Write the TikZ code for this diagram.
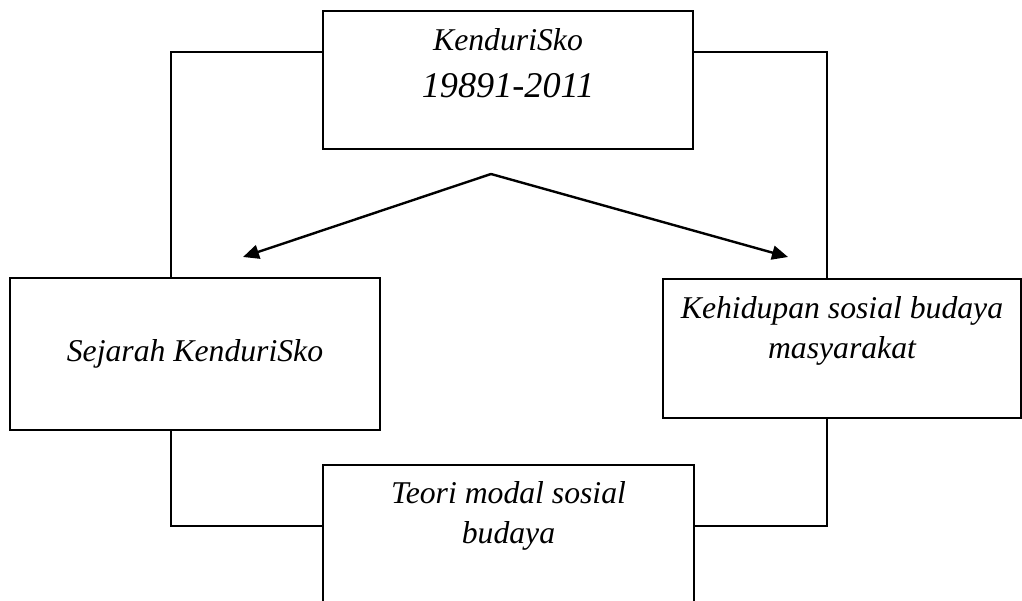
\documentclass[tikz,border=0pt]{standalone}
\usepackage{fontspec}
\setmainfont{Liberation Serif}
\usetikzlibrary{arrows.meta}

\tikzset{
    kotak/.style={draw, line width=1.8pt, rectangle, inner sep=0pt, align=center,
        font=\itshape\fontsize{31.7}{40.5}\selectfont},
    garis/.style={line width=1.8pt},
    panah/.style={line width=2.4pt, -{Triangle[length=16pt,width=14pt]}}
}

\begin{document}
\begin{tikzpicture}[x=1pt,y=-1pt]
    \useasboundingbox (0,0) rectangle (1022,601);
    \clip (0,0) rectangle (1022,601);

    % kotak
    \node[kotak, anchor=north, minimum width=370pt, text height=87pt, text depth=51pt]
        (top) at (508,10) {KenduriSko\\[7pt]{\fontsize{36.2}{47}\selectfont 19891-2011}};
    \node[kotak, minimum width=370pt, minimum height=152pt]
        (kiri) at (195,354) {Sejarah KenduriSko};
    \node[kotak, anchor=north, minimum width=358pt, text height=80pt, text depth=59pt]
        (kanan) at (842,278) {Kehidupan sosial budaya\\masyarakat};
    \node[kotak, anchor=north, minimum width=371pt, text height=79pt, text depth=100pt]
        (bawah) at (508.5,464) {Teori modal sosial\\budaya};

    % titik bantu
    \coordinate (tl) at (171,52);
    \coordinate (tr) at (827,52);
    \coordinate (bl) at (171,526);
    \coordinate (br) at (827,526);
    \coordinate (cabang) at (491,174);
    \coordinate (ujungL) at (243,257);
    \coordinate (ujungR) at (788,257);

    % garis penghubung
    \draw[garis] (top.west |- tl) -| (kiri.north -| tl);
    \draw[garis] (top.east |- tr) -| (kanan.north -| tr);
    \draw[garis] (kiri.south -| bl) |- (bawah.west |- bl);
    \draw[garis] (kanan.south -| br) |- (bawah.east |- br);

    % panah
    \draw[panah] (cabang) -- (ujungL);
    \draw[panah] (cabang) -- (ujungR);
\end{tikzpicture}
\end{document}
